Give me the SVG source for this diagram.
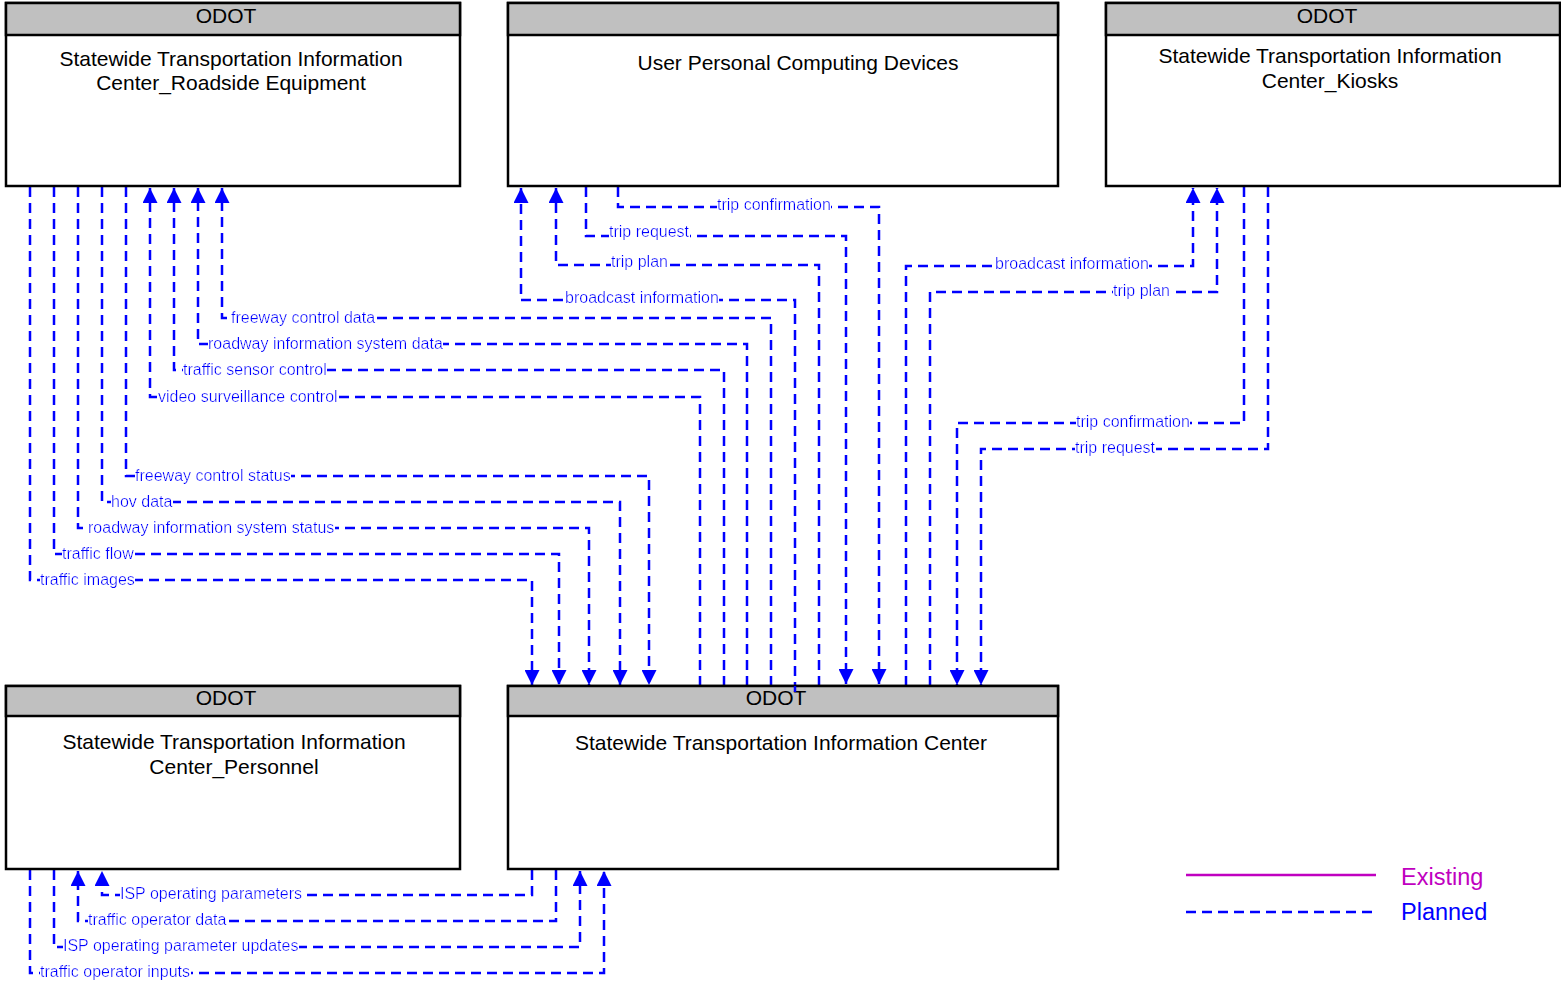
<svg xmlns="http://www.w3.org/2000/svg" width="1561" height="981" viewBox="0 0 1561 981">
  <style>
    .box { fill: #ffffff; stroke: #000000; stroke-width: 2.5; }
    .hdr { fill: #c0c0c0; stroke: #000000; stroke-width: 2.5; }
    .ttl { font-family: "Liberation Sans", Arial, sans-serif; font-size: 21px; fill: #000000; text-anchor: middle; }
    .flow { fill: none; stroke: #0000ff; stroke-width: 2.5; stroke-dasharray: 10 6; marker-end: url(#arr); }
    .lbl { font-family: "Liberation Sans", Arial, sans-serif; font-size: 16px; fill: #0000ff; filter: url(#bg); }
    .leg { font-family: "Liberation Sans", Arial, sans-serif; font-size: 23.5px; }
  </style>
  <defs>
    <marker id="arr" viewBox="0 0 10 10" refX="10" refY="5" markerUnits="userSpaceOnUse" markerWidth="16" markerHeight="15" orient="auto">
      <path d="M0,0 L10,5 L0,10 Z" fill="#0000ff" stroke="none"/>
    </marker>
    <filter id="bg" x="0" y="0" width="1" height="1">
      <feFlood flood-color="#ffffff"/>
      <feComposite in="SourceGraphic"/>
    </filter>
  </defs>

  <!-- connectors -->
  <g id="connectors">
    <!-- Roadside Equipment -> Information Center -->
    <path class="flow" d="M126,187 V476 H649 V685"/>
    <path class="flow" d="M102,187 V502 H620 V685"/>
    <path class="flow" d="M78,187 V528 H589 V685"/>
    <path class="flow" d="M54,187 V554 H559 V685"/>
    <path class="flow" d="M30,187 V580 H532 V685"/>
    <!-- Information Center -> Roadside Equipment -->
    <path class="flow" d="M771,686 V318 H222 V188"/>
    <path class="flow" d="M747,686 V344 H198 V188"/>
    <path class="flow" d="M724,686 V370 H174 V188"/>
    <path class="flow" d="M700,686 V397 H150 V188"/>
    <!-- User Personal Computing Devices -->
    <path class="flow" d="M618,187 V207 H879 V684"/>
    <path class="flow" d="M586,187 V236 H846 V684"/>
    <path class="flow" d="M819,686 V265 H556 V188"/>
    <path class="flow" d="M795,692 V300 H521 V188"/>
    <!-- Kiosks -->
    <path class="flow" d="M906,686 V266 H1193 V188"/>
    <path class="flow" d="M930,686 V292 H1217 V188"/>
    <path class="flow" d="M1244,187 V423 H957 V685"/>
    <path class="flow" d="M1268,187 V449 H981 V685"/>
    <!-- Personnel -->
    <path class="flow" d="M532,870 V895 H102 V871"/>
    <path class="flow" d="M556,870 V921 H78 V871"/>
    <path class="flow" d="M54,870 V947 H580 V871"/>
    <path class="flow" d="M30,870 V973 H604 V871"/>

    <!-- flow labels -->
    <text class="lbl" x="135" y="481">freeway control status</text>
    <text class="lbl" x="111" y="507">hov data</text>
    <text class="lbl" x="88" y="533">roadway information system status</text>
    <text class="lbl" x="62" y="559">traffic flow</text>
    <text class="lbl" x="40" y="585">traffic images</text>
    <text class="lbl" x="231" y="323">freeway control data</text>
    <text class="lbl" x="208" y="349">roadway information system data</text>
    <text class="lbl" x="183" y="375">traffic sensor control</text>
    <text class="lbl" x="158" y="402">video surveillance control</text>
    <text class="lbl" x="717" y="210">trip confirmation</text>
    <text class="lbl" x="609" y="237">trip request</text>
    <text class="lbl" x="611" y="267">trip plan</text>
    <text class="lbl" x="565" y="303">broadcast information</text>
    <text class="lbl" x="995" y="269">broadcast information</text>
    <text class="lbl" x="1113" y="296">trip plan</text>
    <text class="lbl" x="1076" y="427">trip confirmation</text>
    <text class="lbl" x="1075" y="453">trip request</text>
    <text class="lbl" x="120" y="899">ISP operating parameters</text>
    <text class="lbl" x="88" y="925">traffic operator data</text>
    <text class="lbl" x="63" y="951">ISP operating parameter updates</text>
    <text class="lbl" x="40" y="977">traffic operator inputs</text>
  </g>

  <!-- Statewide Transportation Information Center_Roadside Equipment -->
  <g id="node-roadside">
    <rect class="box" x="6" y="3" width="454" height="183"/>
    <rect class="hdr" x="6" y="3" width="454" height="32"/>
    <text class="ttl" x="226" y="23">ODOT</text>
    <text class="ttl" x="231" y="66">Statewide Transportation Information</text>
    <text class="ttl" x="231" y="90">Center_Roadside Equipment</text>
  </g>

  <!-- User Personal Computing Devices -->
  <g id="node-user-devices">
    <rect class="box" x="508" y="3" width="550" height="183"/>
    <rect class="hdr" x="508" y="3" width="550" height="32"/>
    <text class="ttl" x="798" y="70">User Personal Computing Devices</text>
  </g>

  <!-- Statewide Transportation Information Center_Kiosks -->
  <g id="node-kiosks">
    <rect class="box" x="1106" y="3" width="454" height="183"/>
    <rect class="hdr" x="1106" y="3" width="454" height="32"/>
    <text class="ttl" x="1327" y="23">ODOT</text>
    <text class="ttl" x="1330" y="63">Statewide Transportation Information</text>
    <text class="ttl" x="1330" y="88">Center_Kiosks</text>
  </g>

  <!-- Statewide Transportation Information Center_Personnel -->
  <g id="node-personnel">
    <rect class="box" x="6" y="686" width="454" height="183"/>
    <rect class="hdr" x="6" y="686" width="454" height="30"/>
    <text class="ttl" x="226" y="705">ODOT</text>
    <text class="ttl" x="234" y="749">Statewide Transportation Information</text>
    <text class="ttl" x="234" y="774">Center_Personnel</text>
  </g>

  <!-- Statewide Transportation Information Center -->
  <g id="node-center">
    <rect class="box" x="508" y="686" width="550" height="183"/>
    <rect class="hdr" x="508" y="686" width="550" height="30"/>
    <text class="ttl" x="776" y="705">ODOT</text>
    <text class="ttl" x="781" y="750">Statewide Transportation Information Center</text>
  </g>
  <!-- one flow line runs into the header band -->
  <path d="M795,686 V692" stroke="#0000ff" stroke-width="2.5"/>

  <!-- legend -->
  <g id="legend">
    <line x1="1186" y1="875" x2="1376" y2="875" stroke="#c000c0" stroke-width="2.5"/>
    <text class="leg" x="1401" y="885" fill="#c000c0">Existing</text>
    <line x1="1186" y1="912" x2="1376" y2="912" stroke="#0000ff" stroke-width="2.5" stroke-dasharray="10 6"/>
    <text class="leg" x="1401" y="920" fill="#0000ff">Planned</text>
  </g>
</svg>
